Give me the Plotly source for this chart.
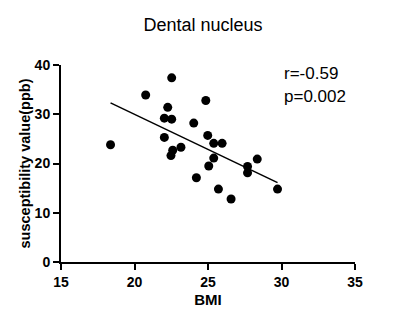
import numpy as np
import plotly.graph_objects as go

bmi = [18.37, 20.76, 22.53, 22.26, 22.03, 22.53, 22.03, 22.60, 22.48, 23.16, 24.03, 24.85,
       24.98, 25.39, 25.96, 25.39, 25.05, 24.21, 25.71, 26.57, 27.69, 27.69, 28.35, 29.73]
suscept = [23.8, 33.9, 37.4, 31.4, 29.2, 29.0, 25.3, 22.7, 21.6, 23.3, 28.2, 32.8,
           25.7, 24.1, 24.1, 21.1, 19.5, 17.1, 14.8, 12.8, 19.4, 18.1, 20.9, 14.8]
x_ticks = [15, 20, 25, 30, 35]
y_ticks = [0, 10, 20, 30, 40]
stats_text = ["r=-0.59", "p=0.002"]

slope, intercept = np.polyfit(bmi, suscept, 1)
fit_x = [min(bmi), max(bmi)]
fit_y = [slope * v + intercept for v in fit_x]

fig = go.Figure()
fig.add_trace(go.Scatter(x=bmi, y=suscept, mode="markers",
                         marker=dict(color="black", size=9), showlegend=False))
fig.add_trace(go.Scatter(x=fit_x, y=fit_y, mode="lines",
                         line=dict(color="black", width=1.5), showlegend=False))

# page body has an 8px margin; figure is sized/offset to compensate
W, H = 392, 314
axis_font = dict(family="Arial, Liberation Sans", size=14, color="black")
fig.update_layout(
    width=W, height=H,
    margin=dict(l=53, r=45, t=57, b=60),
    paper_bgcolor="white", plot_bgcolor="white",
    font=dict(family="Arial, Liberation Sans", color="black"),
    title=dict(text="Dental nucleus", x=(203 - 8) / W, xref="container", xanchor="center",
               y=1 - (25 - 8) / H, yanchor="middle",
               font=dict(family="Arial, Liberation Sans", size=18, color="black")),
    xaxis=dict(range=[15, 35], tickvals=x_ticks, ticktext=[f"<b>{v}</b>" for v in x_ticks],
               showgrid=False, zeroline=False, showline=True, linecolor="black", linewidth=2,
               ticks="outside", ticklen=6, tickwidth=2, tickcolor="black",
               tickfont=axis_font,
               title=dict(text="<b>BMI</b>", font=dict(family="Arial, Liberation Sans", size=15),
                          standoff=6)),
    yaxis=dict(range=[0, 40], tickvals=y_ticks, ticktext=[f"<b>{v}</b>" for v in y_ticks],
               showgrid=False, zeroline=False, showline=True, linecolor="black", linewidth=2,
               ticks="outside", ticklen=6, tickwidth=2, tickcolor="black",
               tickfont=axis_font,
               title=dict(text="<b>susceptibility value(ppb)</b>",
                          font=dict(family="Arial, Liberation Sans", size=14.5), standoff=1)),
    annotations=[
        dict(text=stats_text[0], xref="paper", yref="paper", x=0.752, y=0.959,
             xanchor="left", yanchor="middle", showarrow=False,
             font=dict(family="Arial, Liberation Sans", size=17, color="black")),
        dict(text=stats_text[1], xref="paper", yref="paper", x=0.752, y=0.838,
             xanchor="left", yanchor="middle", showarrow=False,
             font=dict(family="Arial, Liberation Sans", size=17, color="black")),
    ],
)
fig.write_html("out.html")
